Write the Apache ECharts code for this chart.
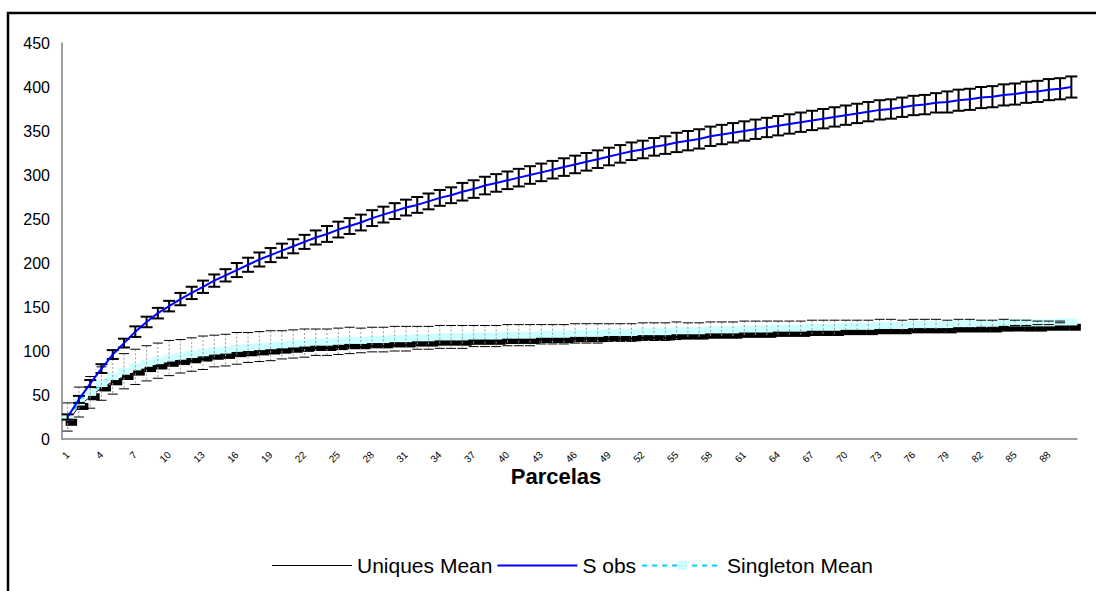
<!DOCTYPE html>
<html><head><meta charset="utf-8">
<script src="https://cdn.jsdelivr.net/npm/echarts@6/dist/echarts.min.js"></script>
<style>html,body{margin:0;padding:0;background:#fff}#c{width:1096px;height:591px}</style>
</head><body><div id="c"></div>
<script>
// ---- DATA ----
const categories = ['1','2','3','4','5','6','7','8','9','10','11','12','13','14','15','16','17','18','19','20',
'21','22','23','24','25','26','27','28','29','30','31','32','33','34','35','36','37','38','39','40',
'41','42','43','44','45','46','47','48','49','50','51','52','53','54','55','56','57','58','59','60',
'61','62','63','64','65','66','67','68','69','70','71','72','73','74','75','76','77','78','79','80',
'81','82','83','84','85','86','87','88','89','90'];

const sObs = [25,45,63,80,96,109,122,133,143,151, 159,166,173,180,186,192,198,204,209,214,
219,224,229,233,238,242,246,251,255,259, 263,266,270,274,277,281,284,288,291,294,
297,300,303,306,309,312,315,318,321,324, 327,329,332,334,337,339,341,344,346,348,
350,352,354,356,358,360,362,364,366,368, 370,372,374,375,377,379,380,382,383,385,
386,388,389,391,392,394,395,397,398,400];

const sObsSd = [3,4,4,5,5,5,6,6,6,6, 7,7,7,7,7,8,8,8,8,8,
8,8,8,9,9,9,9,9,9,9, 9,9,9,9,9,10,10,10,10,10,
10,10,10,10,10,10,10,10,10,10, 10,10,10,10,11,11,11,11,11,11,
11,11,11,11,11,11,11,11,11,11, 11,11,11,11,11,11,11,11,12,12,
12,12,12,12,12,12,12,12,12,12];

const singletonMean = [25,42,53,63,71,77,82,86,89,92, 94,96,98,100,101,103,104,105,106,107,
108,109,110,110,111,112,112,113,113,114, 114,115,115,116,116,116,117,117,117,118,
118,118,119,119,119,120,120,120,121,121, 121,122,122,122,123,123,123,124,124,124,
125,125,125,126,126,126,127,127,127,128, 128,128,129,129,129,130,130,130,130,131,
131,131,131,132,132,132,132,132,133,133];

const singletonSd = [16,17,18,19,20,20,20,20,20,20, 19,19,19,18,18,18,17,17,17,16,
16,16,15,15,15,15,14,14,14,14, 14,13,13,13,13,13,12,12,12,12,
12,12,11,11,11,11,11,11,10,10, 10,10,10,10,10,9,9,9,9,9,
9,9,9,8,8,8,8,8,8,7, 7,7,7,7,6,6,6,6,5,5,
5,4,4,4,3,3,2,2,1,0];

const uniquesMean = [19,37,48,58,65,71,76,80,83,86, 88,90,92,94,95,97,98,99,100,101,
102,103,104,104,105,106,106,107,107,108, 108,109,109,110,110,110,111,111,111,112,
112,112,113,113,113,114,114,114,115,115, 115,116,116,116,117,117,117,118,118,118,
119,119,119,120,120,120,121,121,121,122, 122,122,123,123,123,124,124,124,124,125,
125,125,125,126,126,126,126,127,127,127];

const yTicks = [0,50,100,150,200,250,300,350,400,450];

// ---- derived ----
const sObsErr = sObs.map((v,i)=>[i, v - sObsSd[i], v + sObsSd[i]]);
const singErr = singletonMean.map((v,i)=>[i, v - singletonSd[i], v + singletonSd[i]]);
const uniqBlocks = uniquesMean.map((v,i)=>[i, v]);

function errRender(capHalf, vStyle, capStyle) {
  return function (params, api) {
    const lo = api.coord([api.value(0), api.value(1)]);
    const hi = api.coord([api.value(0), api.value(2)]);
    const x = lo[0];
    if (Math.abs(lo[1]-hi[1]) < 0.5) return null;
    return {type:'group', children:[
      {type:'line', shape:{x1:x, y1:hi[1], x2:x, y2:lo[1]}, style: vStyle},
      {type:'line', shape:{x1:x-capHalf, y1:hi[1], x2:x+capHalf, y2:hi[1]}, style: capStyle},
      {type:'line', shape:{x1:x-capHalf, y1:lo[1], x2:x+capHalf, y2:lo[1]}, style: capStyle}
    ]};
  };
}

const chart = echarts.init(document.getElementById('c'), null, {renderer:'svg'});
const FONT = '"Liberation Sans", Arial, sans-serif';
chart.setOption({
  animation: false,
  backgroundColor: '#fff',
  textStyle: {fontFamily: FONT},
  grid: {left: 62, right: 19, top: 43, bottom: 152, containLabel: false},
  xAxis: {
    type: 'category', data: categories, boundaryGap: true,
    axisLine: {lineStyle: {color: '#808080', width: 1.5}},
    axisTick: {show: false},
    axisLabel: {interval: 2, rotate: 45, fontSize: 10, color: '#000', margin: 14, fontFamily: FONT}
  },
  yAxis: {
    type: 'value', min: yTicks[0], max: yTicks[yTicks.length-1], interval: 50,
    splitLine: {show: false},
    axisLine: {show: true, lineStyle: {color: '#808080', width: 1.5}},
    axisTick: {show: false},
    axisLabel: {fontSize: 16, color: '#000', margin: 12, fontFamily: FONT}
  },
  legend: {
    data: [
      {name: 'Uniques Mean', icon: 'path://M0,0M80,12M0,5.5H80V6.5H0Z'},
      {name: 'S obs', icon: 'path://M0,0M80,12M0,5H80V7H0Z'},
      'Singleton Mean'
    ],
    left: 267, top: 550, itemWidth: 80, itemHeight: 12, itemGap: 5,
    textStyle: {fontSize: 21, color: '#000', fontFamily: FONT}
  },
  graphic: [
    {type: 'rect', shape: {x: 8, y: 13, width: 1100, height: 600}, style: {fill: 'none', stroke: '#000', lineWidth: 2.5}, silent: true},
    {type: 'text', x: 556, y: 476, style: {text: 'Parcelas', font: 'bold 22px "Liberation Sans", Arial, sans-serif', fill: '#000', textAlign: 'center', textVerticalAlign: 'middle'}}
  ],
  series: [
    {
      type: 'custom', name: 'uniqBlocks', z: 1, clip: false,
      data: uniqBlocks, encode: {x: 0, y: 1},
      renderItem: function (params, api) {
        const p = api.coord([api.value(0), api.value(1)]);
        return {type: 'rect', shape: {x: p[0] - 2, y: p[1] - 3.5, width: 11.5, height: 7}, style: {fill: '#000'}};
      }
    },
    {
      type: 'line', name: 'Uniques Mean', z: 2, data: uniquesMean,
      symbol: 'none', lineStyle: {color: '#000', width: 1}, itemStyle: {color: '#000'}
    },
    {
      type: 'line', name: 'Singleton Mean', z: 3, data: singletonMean,
      symbol: 'rect', symbolSize: [12, 7], showSymbol: true, showAllSymbol: true,
      lineStyle: {color: '#00CCFF', width: 3, type: [5, 5]},
      itemStyle: {color: '#CCFFFF', borderWidth: 0}
    },
    {
      type: 'custom', name: 'singErr', z: 4, data: singErr, encode: {x: 0, y: [1, 2]},
      renderItem: errRender(5, {stroke: '#999', lineWidth: 1, lineDash: [2, 2]}, {stroke: '#000', lineWidth: 1})
    },
    {
      type: 'custom', name: 'sObsErr', z: 5, data: sObsErr, encode: {x: 0, y: [1, 2]},
      renderItem: errRender(6, {stroke: '#000', lineWidth: 2}, {stroke: '#000', lineWidth: 2})
    },
    {
      type: 'line', name: 'S obs', z: 6, data: sObs,
      symbol: 'none', lineStyle: {color: '#0000FF', width: 2}, itemStyle: {color: '#0000FF'}
    }
  ]
});
</script></body></html>
